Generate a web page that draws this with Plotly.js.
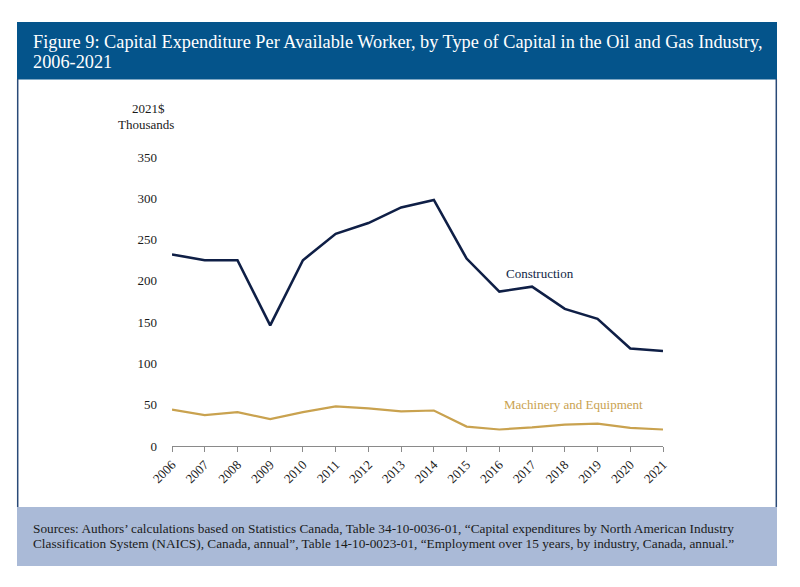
<!DOCTYPE html>
<html>
<head>
<meta charset="utf-8">
<script src="https://cdn.plot.ly/plotly-3.0.1.min.js"></script>
<style>html,body{margin:0;padding:0;background:#fff;}#chart{width:800px;height:587px;}</style>
</head>
<body>
<div id="chart"></div>
<script>
// ---- Data ----
var years = [2006, 2007, 2008, 2009, 2010, 2011, 2012, 2013, 2014, 2015, 2016, 2017, 2018, 2019, 2020, 2021];
var construction = [232, 225, 225, 146, 225, 257, 270, 289, 298, 227, 187, 193, 166, 154, 118, 115];
var machinery = [44, 37.5, 41, 32.5, 41, 48, 45.5, 42, 43, 23.5, 20, 22.5, 26, 27, 22, 20];
var yTicks = [0, 50, 100, 150, 200, 250, 300, 350];
var seriesNames = ["Construction", "Machinery and Equipment"];
var titleLines = ["Figure 9: Capital Expenditure Per Available Worker, by Type of Capital in the Oil and Gas Industry,", "2006-2021"];
var yUnitLines = ["2021$", "Thousands"];
var sourceLines = [
  "Sources: Authors\u2019 calculations based on Statistics Canada, Table 34-10-0036-01, \u201cCapital expenditures by North American Industry",
  "Classification System (NAICS), Canada, annual\u201d, Table 14-10-0023-01, \u201cEmployment over 15 years, by industry, Canada, annual.\u201d"
];

// ---- Layout geometry (pixels) ----
var W = 800, H = 587;
var M = {l: 172, r: 137, t: 157, b: 141};
var pw = W - M.l - M.r, ph = H - M.t - M.b;
function px(x) { return (x - M.l) / pw; }
function py(y) { return (H - M.b - y) / ph; }

var serif = "'Liberation Serif', 'Times New Roman', serif";
var navy = "#0F1F46", gold = "#C9A24F";

var traces = [
  {x: years, y: construction, type: "scatter", mode: "lines", name: seriesNames[0],
   line: {color: navy, width: 2.6}, hoverinfo: "skip"},
  {x: years, y: machinery, type: "scatter", mode: "lines", name: seriesNames[1],
   line: {color: gold, width: 2.2}, hoverinfo: "skip"}
];

var shapes = [
  {type: "rect", xref: "paper", yref: "paper", x0: px(17), x1: px(777), y0: py(22), y1: py(79.5),
   fillcolor: "#04548B", line: {width: 0}, layer: "below"},
  {type: "rect", xref: "paper", yref: "paper", x0: px(17), x1: px(777), y0: py(507), y1: py(566),
   fillcolor: "#AABAD7", line: {width: 0}, layer: "below"},
  {type: "line", xref: "paper", yref: "paper", x0: px(17.7), x1: px(17.7), y0: py(79), y1: py(507),
   line: {color: "#2A4A78", width: 1.5}},
  {type: "line", xref: "paper", yref: "paper", x0: px(776.3), x1: px(776.3), y0: py(79), y1: py(507),
   line: {color: "#2A4A78", width: 1.5}}
];

var annotations = [
  {text: titleLines[0], x: px(31), y: py(42), xref: "paper", yref: "paper", xanchor: "left", yanchor: "middle",
   showarrow: false, font: {family: serif, size: 18.3, color: "#ffffff"}},
  {text: titleLines[1], x: px(31), y: py(62), xref: "paper", yref: "paper", xanchor: "left", yanchor: "middle",
   showarrow: false, font: {family: serif, size: 18.3, color: "#ffffff"}},
  {text: yUnitLines[0], x: px(148), y: py(108), xref: "paper", yref: "paper", xanchor: "center", yanchor: "middle",
   showarrow: false, font: {family: serif, size: 13, color: "#1a1a1a"}},
  {text: yUnitLines[1], x: px(146), y: py(124), xref: "paper", yref: "paper", xanchor: "center", yanchor: "middle",
   showarrow: false, font: {family: serif, size: 13, color: "#1a1a1a"}},
  {text: seriesNames[0], x: px(504), y: py(273), xref: "paper", yref: "paper", xanchor: "left", yanchor: "middle",
   showarrow: false, font: {family: serif, size: 13, color: navy}},
  {text: seriesNames[1], x: px(502), y: py(404), xref: "paper", yref: "paper", xanchor: "left", yanchor: "middle",
   showarrow: false, font: {family: serif, size: 13, color: gold}},
  {text: sourceLines[0], x: px(31), y: py(528.5), xref: "paper", yref: "paper", xanchor: "left", yanchor: "middle",
   showarrow: false, font: {family: serif, size: 13.3, color: "#1a1a1a"}},
  {text: sourceLines[1], x: px(31), y: py(543.5), xref: "paper", yref: "paper", xanchor: "left", yanchor: "middle",
   showarrow: false, font: {family: serif, size: 13.3, color: "#1a1a1a"}}
];

var layout = {
  width: W, height: H,
  margin: M,
  paper_bgcolor: "#ffffff", plot_bgcolor: "rgba(0,0,0,0)",
  showlegend: false,
  xaxis: {
    range: [2006, 2021], tickmode: "array", tickvals: years, ticktext: years.map(String),
    tickangle: -45, ticks: "outside", ticklen: 5, tickcolor: "#8a8a8a", tickwidth: 1,
    showline: true, linecolor: "#8a8a8a", linewidth: 1, showgrid: false, zeroline: false,
    tickfont: {family: serif, size: 13, color: "#1a1a1a"}, fixedrange: true
  },
  yaxis: {
    range: [0, 350], tickmode: "array", tickvals: yTicks, ticktext: yTicks.map(String),
    ticks: "", showline: false, showgrid: false, zeroline: false, ticklabelstandoff: 14,
    tickfont: {family: serif, size: 13, color: "#1a1a1a"}, fixedrange: true
  },
  shapes: shapes,
  annotations: annotations
};

Plotly.newPlot("chart", traces, layout, {displayModeBar: false, staticPlot: true});
</script>
</body>
</html>
